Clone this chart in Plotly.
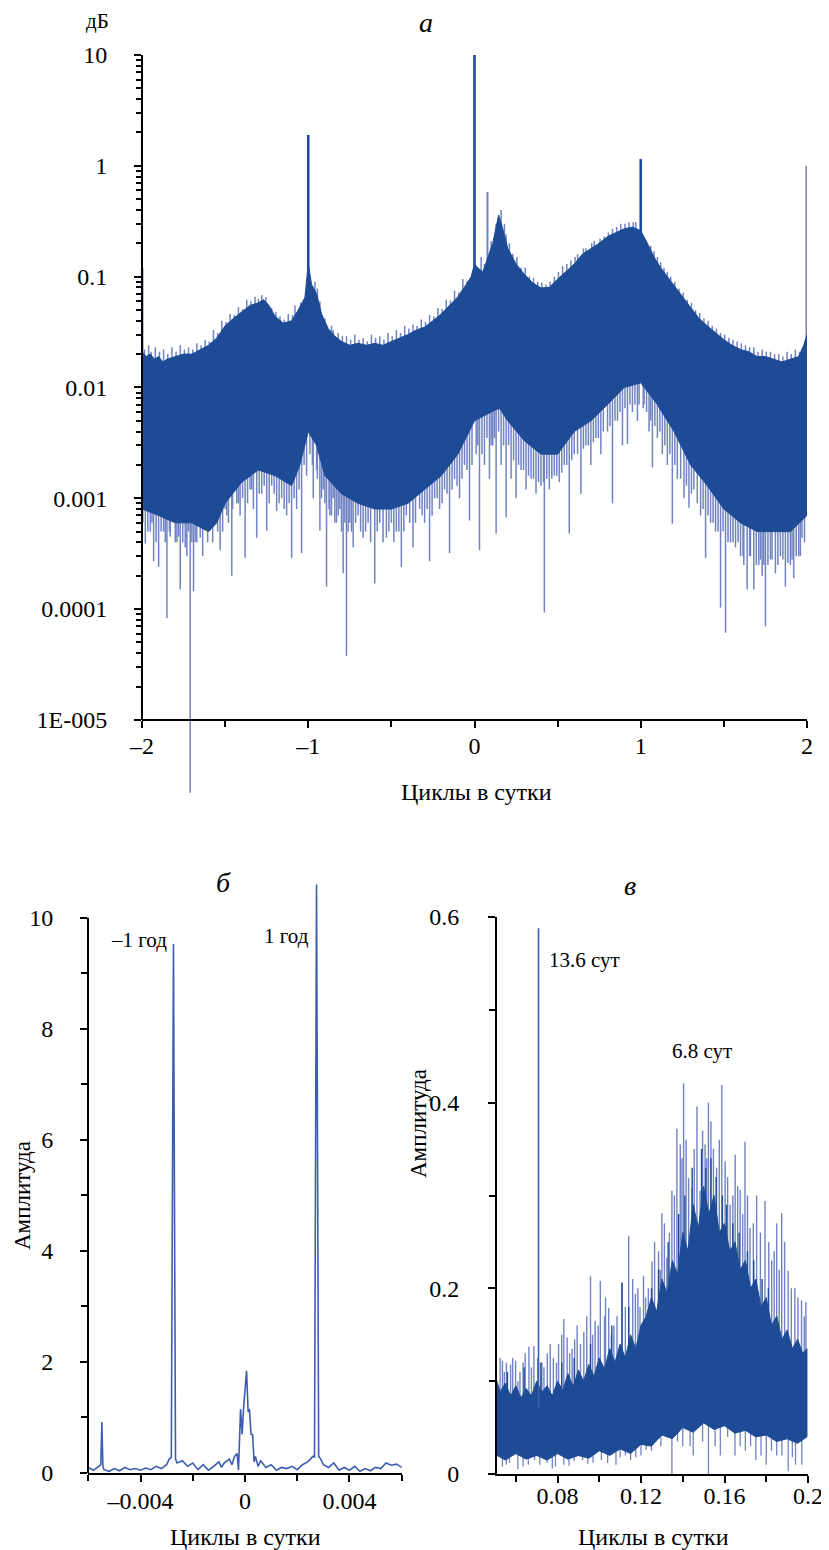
import math
import plotly.graph_objects as go

W, H = 829, 1550
OFF = 8  # the page body margin shifts the figure by 8 px
def px(x): return (x - OFF) / W
def py(y): return 1 - (y - OFF) / H

DARK = "#1d4b95"
LIGHT = "#7083c3"
MID = "#3d5db0"
FONT = "Liberation Serif"

# ---------------- Panel a (log spectrum, cycles per day) ----------------
A_UP_F = [-2.00, -1.975, -1.95, -1.925, -1.90, -1.875, -1.85, -1.80, -1.75, -1.70, -1.65, -1.60, -1.55,
          -1.50, -1.45, -1.40, -1.35, -1.30, -1.27, -1.24, -1.20, -1.15, -1.10, -1.06, -1.02, -1.00,
          -0.98, -0.95, -0.92, -0.88, -0.84, -0.80, -0.75, -0.70, -0.65, -0.60, -0.55, -0.50, -0.45,
          -0.40, -0.35, -0.30, -0.25, -0.20, -0.15, -0.10, -0.05, -0.02, 0.00, 0.02, 0.05, 0.08, 0.11,
          0.145, 0.17, 0.20, 0.25, 0.30, 0.35, 0.40, 0.45, 0.50, 0.55, 0.60, 0.65, 0.70, 0.75, 0.80,
          0.85, 0.90, 0.95, 1.00, 1.04, 1.08, 1.12, 1.16, 1.20, 1.25, 1.30, 1.35, 1.40, 1.45, 1.50,
          1.55, 1.60, 1.65, 1.70, 1.75, 1.80, 1.85, 1.90, 1.95, 1.98, 2.00]
A_UP_V = [0.021, 0.019, 0.020, 0.018, 0.019, 0.017, 0.018, 0.019, 0.020, 0.020, 0.022, 0.024, 0.028,
          0.036, 0.042, 0.048, 0.055, 0.058, 0.062, 0.056, 0.044, 0.038, 0.040, 0.050, 0.065, 0.13,
          0.085, 0.070, 0.046, 0.034, 0.029, 0.026, 0.024, 0.025, 0.024, 0.025, 0.024, 0.026, 0.028,
          0.030, 0.033, 0.035, 0.040, 0.046, 0.055, 0.066, 0.085, 0.10, 0.13, 0.12, 0.11, 0.15, 0.20,
          0.36, 0.27, 0.18, 0.13, 0.105, 0.088, 0.079, 0.080, 0.095, 0.11, 0.13, 0.16, 0.18, 0.20, 0.23,
          0.25, 0.27, 0.28, 0.26, 0.20, 0.15, 0.12, 0.10, 0.082, 0.065, 0.052, 0.042, 0.036, 0.031, 0.027,
          0.024, 0.022, 0.021, 0.019, 0.019, 0.018, 0.017, 0.018, 0.019, 0.024, 0.030]

A_LO_F = [-2.00, -1.90, -1.80, -1.70, -1.60, -1.55, -1.50, -1.40, -1.30, -1.20, -1.10, -1.05, -1.00,
          -0.95, -0.90, -0.80, -0.70, -0.60, -0.50, -0.40, -0.30, -0.20, -0.10, 0.00, 0.10, 0.15, 0.20,
          0.30, 0.40, 0.50, 0.60, 0.70, 0.80, 0.90, 1.00, 1.10, 1.20, 1.30, 1.40, 1.50, 1.60, 1.70,
          1.80, 1.90, 2.00]
A_LO_V = [0.0008, 0.0007, 0.0006, 0.0006, 0.0005, 0.0006, 0.0009, 0.0014, 0.0018, 0.0016, 0.0013, 0.002,
          0.004, 0.003, 0.0016, 0.0011, 0.0009, 0.0008, 0.0008, 0.0009, 0.0012, 0.0016, 0.0025, 0.005,
          0.006, 0.0065, 0.005, 0.0033, 0.0025, 0.0025, 0.004, 0.005, 0.007, 0.010, 0.011, 0.007, 0.004,
          0.002, 0.0013, 0.0008, 0.0006, 0.0005, 0.0005, 0.0005, 0.0007]

# light fringe spikes above the upper edge
A_FR = [(-1.96, 0.024), (-1.92, 0.023), (-1.87, 0.022), (-1.82, 0.023), (-1.77, 0.024), (-1.72, 0.023),
        (-1.67, 0.025), (-1.62, 0.027), (-1.57, 0.033), (-1.52, 0.040), (-1.47, 0.046), (-1.42, 0.053),
        (-1.37, 0.062), (-1.32, 0.066), (-1.28, 0.068), (-1.22, 0.052), (-1.17, 0.044), (-1.12, 0.046),
        (-1.08, 0.055), (-0.96, 0.09), (-0.93, 0.06), (-0.86, 0.036), (-0.82, 0.031), (-0.77, 0.029),
        (-0.72, 0.030), (-0.67, 0.028), (-0.62, 0.030), (-0.57, 0.029), (-0.52, 0.031), (-0.47, 0.033),
        (-0.42, 0.036), (-0.37, 0.037), (-0.32, 0.041), (-0.27, 0.045), (-0.22, 0.052), (-0.17, 0.062),
        (-0.12, 0.075), (-0.07, 0.095), (0.04, 0.15), (0.13, 0.30), (0.16, 0.40), (0.19, 0.24),
        (0.23, 0.16), (0.28, 0.12), (0.33, 0.10), (0.38, 0.09), (0.43, 0.085), (0.48, 0.10),
        (0.53, 0.125), (0.58, 0.14), (0.62, 0.16), (0.67, 0.18), (0.72, 0.21), (0.78, 0.23),
        (0.83, 0.27), (0.88, 0.30), (0.93, 0.31), (0.97, 0.31), (1.06, 0.19), (1.10, 0.15),
        (1.14, 0.12), (1.18, 0.10), (1.23, 0.078), (1.28, 0.062), (1.33, 0.050), (1.38, 0.042),
        (1.43, 0.036), (1.48, 0.031), (1.53, 0.028), (1.58, 0.026), (1.63, 0.024), (1.68, 0.023),
        (1.73, 0.022), (1.78, 0.021), (1.83, 0.020), (1.88, 0.021), (1.93, 0.022),
        (-1.985, 0.022), (-1.945, 0.021), (-1.895, 0.021), (-1.845, 0.020), (-1.795, 0.021),
        (-1.745, 0.022), (-1.695, 0.022), (-1.645, 0.024), (-1.595, 0.026), (-1.545, 0.031),
        (-1.495, 0.039), (-1.445, 0.045), (-1.395, 0.051), (-1.345, 0.060), (-1.30, 0.063),
        (-1.255, 0.065), (-1.195, 0.048), (-1.145, 0.041), (-1.095, 0.045), (-1.045, 0.058),
        (-0.945, 0.078), (-0.90, 0.042), (-0.85, 0.033), (-0.795, 0.029), (-0.745, 0.027),
        (-0.695, 0.027), (-0.645, 0.026), (-0.595, 0.028), (-0.545, 0.027), (-0.495, 0.029),
        (-0.445, 0.031), (-0.395, 0.034), (-0.345, 0.036), (-0.295, 0.039), (-0.245, 0.044),
        (-0.195, 0.051), (-0.145, 0.061), (-0.095, 0.072), (-0.045, 0.092), (0.06, 0.13),
        (0.10, 0.21), (0.18, 0.30), (0.21, 0.20), (0.255, 0.15), (0.305, 0.12), (0.355, 0.097),
        (0.405, 0.088), (0.455, 0.09), (0.505, 0.11), (0.555, 0.13), (0.605, 0.15), (0.655, 0.18),
        (0.705, 0.20), (0.755, 0.22), (0.805, 0.25), (0.855, 0.28), (0.905, 0.30), (0.955, 0.31),
        (1.08, 0.17), (1.12, 0.135), (1.16, 0.11), (1.205, 0.09), (1.255, 0.072), (1.305, 0.058),
        (1.355, 0.047), (1.405, 0.040), (1.455, 0.034), (1.505, 0.030), (1.555, 0.027),
        (1.605, 0.025), (1.655, 0.023), (1.705, 0.021), (1.755, 0.021), (1.805, 0.020),
        (1.855, 0.019), (1.905, 0.020), (1.955, 0.021)]
A_FR_F = [p[0] for p in A_FR]
A_FR_V = [p[1] for p in A_FR]

# light spikes hanging below the band (long ones)
A_DN = [(-1.98, 0.00039), (-1.95, 0.0005), (-1.93, 0.00027), (-1.90, 0.00024), (-1.87, 0.0005),
        (-1.85, 0.000083), (-1.83, 0.00045), (-1.81, 0.00063), (-1.79, 0.0004), (-1.77, 0.00015),
        (-1.74, 0.00036), (-1.72, 0.0005), (-1.71, 0.0000022), (-1.69, 0.000145), (-1.67, 0.0004),
        (-1.65, 0.00044), (-1.62, 0.0006), (-1.59, 0.00051), (-1.56, 0.0007), (-1.53, 0.00034),
        (-1.50, 0.0008), (-1.48, 0.0006), (-1.46, 0.0002), (-1.43, 0.0009), (-1.41, 0.0007),
        (-1.38, 0.00029), (-1.35, 0.0012), (-1.33, 0.0008), (-1.31, 0.00044), (-1.28, 0.0011),
        (-1.25, 0.00051), (-1.22, 0.0013), (-1.19, 0.00077), (-1.16, 0.001), (-1.13, 0.0007),
        (-1.10, 0.00029), (-1.07, 0.0008), (-1.04, 0.00032), (-1.01, 0.0016), (-0.99, 0.0025),
        (-0.97, 0.001), (-0.95, 0.0018), (-0.93, 0.00051), (-0.91, 0.0012), (-0.89, 0.00016),
        (-0.87, 0.0007), (-0.85, 0.001), (-0.83, 0.0006), (-0.81, 0.0008), (-0.79, 0.00021),
        (-0.77, 0.000038), (-0.75, 0.0006), (-0.73, 0.00036), (-0.70, 0.0007), (-0.67, 0.00044),
        (-0.64, 0.0006), (-0.60, 0.00017), (-0.57, 0.0006), (-0.53, 0.00044), (-0.50, 0.0006),
        (-0.47, 0.0005), (-0.44, 0.00024), (-0.41, 0.0007), (-0.37, 0.00036), (-0.33, 0.0008),
        (-0.30, 0.0006), (-0.27, 0.00027), (-0.24, 0.001), (-0.21, 0.0008), (-0.18, 0.0012),
        (-0.15, 0.00032), (-0.12, 0.0015), (-0.09, 0.001), (-0.06, 0.002), (-0.03, 0.00063),
        (0.01, 0.0025), (0.03, 0.00034), (0.06, 0.002), (0.09, 0.0015), (0.11, 0.003), (0.13, 0.00048),
        (0.16, 0.002), (0.19, 0.00067), (0.22, 0.0015), (0.25, 0.001), (0.28, 0.0018), (0.31, 0.0012),
        (0.34, 0.0015), (0.37, 0.0011), (0.40, 0.0013), (0.42, 0.000093), (0.45, 0.0012), (0.48, 0.0016),
        (0.51, 0.0014), (0.54, 0.002), (0.57, 0.00048), (0.60, 0.0025), (0.64, 0.0011), (0.67, 0.003),
        (0.70, 0.002), (0.73, 0.0035), (0.76, 0.0025), (0.80, 0.004), (0.83, 0.0009), (0.86, 0.005),
        (0.89, 0.003), (0.92, 0.0031), (0.95, 0.006), (0.98, 0.005), (1.02, 0.007), (1.05, 0.004),
        (1.07, 0.0019), (1.10, 0.0035), (1.13, 0.0025), (1.16, 0.002), (1.19, 0.00059), (1.22, 0.0015),
        (1.26, 0.001), (1.29, 0.00082), (1.32, 0.0012), (1.36, 0.0007), (1.39, 0.00029), (1.42, 0.0006),
        (1.45, 0.0005), (1.48, 0.000103), (1.51, 0.000061), (1.54, 0.0004), (1.57, 0.00036),
        (1.60, 0.0003), (1.62, 0.00025), (1.64, 0.00015), (1.66, 0.0003), (1.68, 0.00015),
        (1.71, 0.00025), (1.73, 0.0002), (1.75, 0.00007), (1.78, 0.00028), (1.81, 0.00021),
        (1.84, 0.0003), (1.87, 0.00016), (1.90, 0.00025), (1.92, 0.00019), (1.95, 0.0003), (1.97, 0.00044)]
# shorter light spikes that thicken the lower fringe
A_DN2 = [(-1.995, 0.0006), (-1.965, 0.0005), (-1.94, 0.0006), (-1.915, 0.0004), (-1.885, 0.0005),
         (-1.86, 0.0004), (-1.835, 0.0005), (-1.80, 0.0004), (-1.78, 0.00045), (-1.755, 0.0004),
         (-1.73, 0.0003), (-1.70, 0.0004), (-1.68, 0.0004), (-1.635, 0.0003), (-1.605, 0.0004),
         (-1.575, 0.0004), (-1.545, 0.0005), (-1.515, 0.0005), (-1.49, 0.0007), (-1.455, 0.0008),
         (-1.42, 0.0009), (-1.395, 0.001), (-1.365, 0.0009), (-1.34, 0.0012), (-1.295, 0.0011),
         (-1.265, 0.0013), (-1.235, 0.0009), (-1.205, 0.0011), (-1.175, 0.0009), (-1.145, 0.0008),
         (-1.115, 0.0009), (-1.085, 0.001), (-1.055, 0.0012), (-1.025, 0.002), (-0.975, 0.002),
         (-0.945, 0.0015), (-0.92, 0.001), (-0.90, 0.0009), (-0.875, 0.0008), (-0.86, 0.0007),
         (-0.84, 0.0006), (-0.82, 0.0007), (-0.80, 0.0005), (-0.78, 0.0006), (-0.76, 0.0005),
         (-0.74, 0.0005), (-0.715, 0.0006), (-0.685, 0.0005), (-0.655, 0.0005), (-0.625, 0.0004),
         (-0.585, 0.0005), (-0.55, 0.0004), (-0.515, 0.0005), (-0.485, 0.0004), (-0.455, 0.0005),
         (-0.425, 0.0005), (-0.39, 0.0006), (-0.355, 0.0006), (-0.315, 0.0007), (-0.285, 0.0008),
         (-0.255, 0.0007), (-0.225, 0.001), (-0.195, 0.0009), (-0.165, 0.0011), (-0.135, 0.0012),
         (-0.105, 0.0013), (-0.075, 0.0015), (-0.045, 0.0018), (-0.015, 0.002), (0.02, 0.003),
         (0.045, 0.0025), (0.075, 0.0035), (0.10, 0.003), (0.12, 0.0035), (0.145, 0.004),
         (0.175, 0.003), (0.205, 0.003), (0.235, 0.0022), (0.265, 0.002), (0.295, 0.0018),
         (0.325, 0.0016), (0.355, 0.0015), (0.385, 0.0014), (0.415, 0.0014), (0.435, 0.0015),
         (0.465, 0.0015), (0.495, 0.0016), (0.525, 0.0017), (0.555, 0.002), (0.585, 0.0022),
         (0.62, 0.0025), (0.655, 0.0028), (0.685, 0.003), (0.715, 0.0032), (0.745, 0.0035),
         (0.775, 0.004), (0.815, 0.0045), (0.845, 0.005), (0.875, 0.006), (0.905, 0.0065),
         (0.935, 0.007), (0.965, 0.007), (0.99, 0.007), (1.015, 0.0065), (1.035, 0.006),
         (1.06, 0.005), (1.085, 0.0045), (1.115, 0.004), (1.145, 0.003), (1.175, 0.0025),
         (1.205, 0.002), (1.24, 0.0015), (1.275, 0.0013), (1.305, 0.0011), (1.34, 0.0009),
         (1.375, 0.0008), (1.405, 0.0007), (1.435, 0.0006), (1.465, 0.0005), (1.495, 0.0005),
         (1.525, 0.0004), (1.555, 0.0004), (1.585, 0.0004), (1.615, 0.0003), (1.655, 0.0003),
         (1.695, 0.00025), (1.72, 0.00028), (1.74, 0.00025), (1.765, 0.00025), (1.79, 0.00028),
         (1.825, 0.00025), (1.855, 0.00028), (1.885, 0.00026), (1.91, 0.00028), (1.935, 0.0003),
         (1.96, 0.0003), (1.985, 0.0004)]
A_DN_F = [p[0] for p in A_DN + A_DN2]
A_DN_V = [p[1] for p in A_DN + A_DN2]

# main spectral lines
A_PK_F = [-1.00, 0.00, 1.00]
A_PK_V = [1.9, 10.5, 1.15]
A_PKL_F = [-1.997, 0.078, 1.997]
A_PKL_V = [0.12, 0.58, 1.0]

A_YTICKS = [1e-5, 1e-4, 1e-3, 1e-2, 1e-1, 1, 10]
A_YTEXT = ["1E-005", "0.0001", "0.001", "0.01", "0.1", "1", "10"]
A_XTICKS = [-2, -1, 0, 1, 2]
A_XTEXT = ["–2", "–1", "0", "1", "2"]

# ---------------- Panel б (low frequencies) ----------------
B_F = [-0.0060, -0.0058, -0.0056, -0.00552, -0.00548, -0.00544, -0.0054, -0.0052, -0.0050, -0.0048,
       -0.0046, -0.0044, -0.0042, -0.0040, -0.0038, -0.0036, -0.0034, -0.0032, -0.0030, -0.0029,
       -0.00282, -0.002738, -0.00266, -0.0026, -0.0024, -0.0022, -0.0020, -0.0018, -0.0016, -0.0014,
       -0.0012, -0.0010, -0.0009, -0.0008, -0.0006, -0.0005, -0.0004, -0.0003, -0.00025, -0.00017,
       -0.00011, -0.00005, 0.00006, 0.00012, 0.00017, 0.00023, 0.00029, 0.00035, 0.0004, 0.0005,
       0.0006, 0.0007, 0.0008, 0.0010, 0.0012, 0.0014, 0.0016, 0.0018, 0.0020, 0.0022, 0.0024, 0.0026,
       0.00266, 0.002738, 0.00282, 0.0029, 0.0030, 0.0032, 0.0034, 0.0036, 0.0038, 0.0040, 0.0042,
       0.0044, 0.0046, 0.0048, 0.0050, 0.0052, 0.0054, 0.0056, 0.0058, 0.0060]
B_V = [0.10, 0.05, 0.12, 0.15, 0.92, 0.12, 0.06, 0.03, 0.08, 0.04,
       0.10, 0.06, 0.08, 0.05, 0.09, 0.06, 0.12, 0.08, 0.15, 0.25,
       0.28, 9.53, 0.25, 0.18, 0.22, 0.12, 0.18, 0.06, 0.15, 0.05,
       0.12, 0.20, 0.10, 0.18, 0.25, 0.15, 0.30, 0.35, 0.05, 1.15,
       0.70, 1.20, 1.84, 1.10, 1.15, 0.70, 0.69, 0.20, 0.30, 0.12,
       0.22, 0.15, 0.10, 0.15, 0.05, 0.10, 0.08, 0.12, 0.06, 0.15, 0.20, 0.30,
       0.28, 10.6, 0.30, 0.25, 0.15, 0.10, 0.18, 0.05, 0.10, 0.05, 0.12,
       0.03, 0.08, 0.04, 0.10, 0.08, 0.18, 0.14, 0.16, 0.10]

# ---------------- Panel в (0.05–0.2 cycles per day) ----------------
C_UP = [(0.051, 0.10), (0.0525, 0.088), (0.055, 0.098), (0.0575, 0.084), (0.06, 0.095), (0.0625, 0.082),
        (0.065, 0.092), (0.0675, 0.084), (0.07, 0.10), (0.0725, 0.088), (0.075, 0.095), (0.0775, 0.084),
        (0.08, 0.10), (0.0825, 0.09), (0.085, 0.108), (0.0875, 0.094), (0.09, 0.112), (0.0925, 0.10),
        (0.095, 0.118), (0.0975, 0.105), (0.10, 0.125), (0.1025, 0.113), (0.105, 0.135), (0.1075, 0.12),
        (0.11, 0.14), (0.1125, 0.125), (0.115, 0.15), (0.1175, 0.135), (0.12, 0.16), (0.1225, 0.17),
        (0.125, 0.19), (0.1275, 0.175), (0.13, 0.21), (0.1325, 0.195), (0.135, 0.23), (0.1375, 0.215),
        (0.14, 0.26), (0.1425, 0.24), (0.145, 0.29), (0.1475, 0.265), (0.15, 0.31), (0.1525, 0.28),
        (0.155, 0.30), (0.1575, 0.26), (0.16, 0.27), (0.1625, 0.24), (0.165, 0.25), (0.1675, 0.22),
        (0.17, 0.23), (0.1725, 0.20), (0.175, 0.21), (0.1775, 0.18), (0.18, 0.19), (0.1825, 0.16),
        (0.185, 0.17), (0.1875, 0.145), (0.19, 0.155), (0.1925, 0.135), (0.195, 0.145), (0.1975, 0.13),
        (0.1995, 0.135)]
C_LO = [(0.051, 0.02), (0.055, 0.015), (0.06, 0.022), (0.065, 0.016), (0.07, 0.02), (0.075, 0.015),
        (0.08, 0.022), (0.085, 0.016), (0.09, 0.02), (0.095, 0.017), (0.10, 0.025), (0.105, 0.02),
        (0.11, 0.027), (0.115, 0.022), (0.12, 0.032), (0.125, 0.03), (0.13, 0.042), (0.135, 0.038),
        (0.14, 0.05), (0.145, 0.045), (0.15, 0.055), (0.155, 0.048), (0.16, 0.052), (0.165, 0.044),
        (0.17, 0.047), (0.175, 0.04), (0.18, 0.042), (0.185, 0.035), (0.19, 0.038), (0.195, 0.033),
        (0.1995, 0.04)]
C_UP_F = [p[0] for p in C_UP]
C_UP_V = [p[1] for p in C_UP]
C_LO_F = [p[0] for p in C_LO]
C_LO_V = [p[1] for p in C_LO]

C_SP = [(0.0525, 0.125), (0.0536, 0.122), (0.0555, 0.12), (0.0575, 0.118), (0.0599, 0.122), (0.062, 0.11),
        (0.0645, 0.13), (0.0663, 0.137), (0.0687, 0.138), (0.0725, 0.12), (0.0751, 0.13), (0.078, 0.125),
        (0.0805, 0.14), (0.0830, 0.167), (0.0846, 0.147), (0.087, 0.135), (0.0894, 0.16), (0.0926, 0.153),
        (0.0958, 0.213), (0.098, 0.165), (0.1005, 0.208), (0.1025, 0.17), (0.1045, 0.179), (0.107, 0.16),
        (0.1109, 0.206), (0.1141, 0.256), (0.1173, 0.194), (0.1195, 0.18), (0.1212, 0.213), (0.1235, 0.2),
        (0.1253, 0.229), (0.1284, 0.24), (0.1300, 0.281), (0.1324, 0.233), (0.1348, 0.305), (0.1372, 0.372),
        (0.1388, 0.355), (0.1404, 0.421), (0.1428, 0.319), (0.1444, 0.308), (0.1468, 0.396), (0.1483, 0.305),
        (0.1507, 0.355), (0.1523, 0.40), (0.1547, 0.35), (0.1587, 0.419), (0.1603, 0.337), (0.1627, 0.29),
        (0.1651, 0.344), (0.1675, 0.306), (0.1698, 0.358), (0.1722, 0.265), (0.1754, 0.30), (0.1794, 0.294),
        (0.1826, 0.23), (0.1850, 0.27), (0.1874, 0.281), (0.1905, 0.219), (0.1937, 0.20), (0.1969, 0.187),
        (0.1990, 0.185),
        (0.0545, 0.11), (0.0585, 0.125), (0.061, 0.10), (0.0635, 0.12), (0.0675, 0.115), (0.0705, 0.125),
        (0.0735, 0.115), (0.0765, 0.14), (0.0795, 0.12), (0.082, 0.15), (0.0858, 0.13), (0.0882, 0.145),
        (0.091, 0.14), (0.094, 0.17), (0.0968, 0.15), (0.0995, 0.16), (0.103, 0.19), (0.1058, 0.15),
        (0.1085, 0.17), (0.1125, 0.18), (0.116, 0.21), (0.1185, 0.20), (0.1222, 0.19), (0.1265, 0.25),
        (0.1292, 0.22), (0.1312, 0.27), (0.1336, 0.26), (0.136, 0.30), (0.1396, 0.34), (0.1416, 0.36),
        (0.1455, 0.35), (0.1495, 0.37), (0.1515, 0.34), (0.1535, 0.38), (0.1562, 0.33), (0.1575, 0.36),
        (0.1615, 0.32), (0.1640, 0.30), (0.1663, 0.31), (0.1687, 0.28), (0.171, 0.30), (0.1738, 0.27),
        (0.1772, 0.26), (0.1812, 0.25), (0.1838, 0.24), (0.1862, 0.22), (0.1888, 0.25), (0.192, 0.20),
        (0.1952, 0.19), (0.1982, 0.17)]
C_SP_F = [p[0] for p in C_SP]
C_SP_V = [p[1] for p in C_SP]
C_DK = [(0.056, 0.11), (0.064, 0.115), (0.072, 0.12), (0.082, 0.12), (0.088, 0.125), (0.0958, 0.14),
        (0.106, 0.16), (0.1109, 0.206), (0.1141, 0.18), (0.125, 0.20), (0.1284, 0.22), (0.133, 0.25),
        (0.138, 0.28), (0.141, 0.30), (0.1445, 0.33), (0.149, 0.35), (0.151, 0.33), (0.1535, 0.34),
        (0.156, 0.32), (0.159, 0.30), (0.161, 0.29), (0.164, 0.27), (0.167, 0.26), (0.171, 0.24),
        (0.174, 0.23), (0.178, 0.21), (0.181, 0.20)]
C_DK_F = [p[0] for p in C_DK]
C_DK_V = [p[1] for p in C_DK]
C_DN = [(0.0536, 0.008), (0.057, 0.012), (0.061, 0.005), (0.066, 0.01), (0.069, 0.015), (0.075, 0.012),
        (0.079, 0.008), (0.083, 0.01), (0.088, 0.014), (0.092, 0.015), (0.097, 0.012), (0.104, 0.012),
        (0.11, 0.018), (0.115, 0.015), (0.12, 0.02), (0.125, 0.025), (0.1348, 0.0), (0.14, 0.03),
        (0.145, 0.02), (0.1523, 0.0), (0.158, 0.02), (0.165, 0.02), (0.17, 0.025), (0.175, 0.015),
        (0.18, 0.01), (0.185, 0.02), (0.1905, 0.003), (0.194, 0.01), (0.197, 0.01),
        (0.0555, 0.01), (0.0635, 0.008), (0.0715, 0.01), (0.0775, 0.006), (0.0855, 0.009),
        (0.0945, 0.011), (0.101, 0.015), (0.108, 0.01), (0.1125, 0.02), (0.1175, 0.018),
        (0.1225, 0.026), (0.1295, 0.03), (0.1375, 0.035), (0.1435, 0.03), (0.1495, 0.035),
        (0.1555, 0.03), (0.1615, 0.04), (0.1675, 0.03), (0.1725, 0.03), (0.1775, 0.02),
        (0.1825, 0.025), (0.1875, 0.02), (0.1925, 0.018)]
C_DN_F = [p[0] for p in C_DN]
C_DN_V = [p[1] for p in C_DN]
C_PK_F = [0.0709]
C_PK_V = [0.588]


def spikes(fs, vs, base):
    xs, ys = [], []
    for f, v in zip(fs, vs):
        xs += [f, f, None]
        ys += [base, v, None]
    return xs, ys


fig = go.Figure()

def add_spikes(fs, vs, base, color, width, xa, ya):
    xs, ys = spikes(fs, vs, base)
    fig.add_trace(go.Scatter(x=xs, y=ys, mode="lines", line=dict(color=color, width=width),
                             xaxis=xa, yaxis=ya, hoverinfo="skip"))

def add_band(uf, uv, lf, lv, xa, ya):
    fig.add_trace(go.Scatter(x=uf + lf[::-1], y=uv + lv[::-1], mode="lines", fill="toself",
                             fillcolor=DARK, line=dict(color=DARK, width=1), xaxis=xa, yaxis=ya,
                             hoverinfo="skip"))

# Panel a
add_spikes(A_DN_F, A_DN_V, 0.015, LIGHT, 1.5, "x", "y")
add_spikes(A_FR_F, A_FR_V, 0.015, LIGHT, 1.5, "x", "y")
add_spikes(A_PKL_F, A_PKL_V, 0.015, LIGHT, 2.0, "x", "y")
add_band(A_UP_F, A_UP_V, A_LO_F, A_LO_V, "x", "y")
add_spikes(A_PK_F, A_PK_V, 0.015, DARK, 2.6, "x", "y")

# Panel б
fig.add_trace(go.Scatter(x=B_F, y=B_V, mode="lines", line=dict(color=MID, width=1.6),
                         xaxis="x2", yaxis="y2", hoverinfo="skip"))

# Panel в
add_spikes(C_DN_F, C_DN_V, 0.07, LIGHT, 1.3, "x3", "y3")
add_spikes(C_SP_F, C_SP_V, 0.07, LIGHT, 1.4, "x3", "y3")
add_band(C_UP_F, C_UP_V, C_LO_F, C_LO_V, "x3", "y3")
add_spikes(C_DK_F, C_DK_V, 0.07, DARK, 1.4, "x3", "y3")
add_spikes(C_PK_F, C_PK_V, 0.07, MID, 1.6, "x3", "y3")

TICKFONT = dict(family=FONT, size=24, color="black")
tick_common = dict(ticks="outside", ticklen=7, tickwidth=2, tickcolor="black", showgrid=False,
                   zeroline=False, tickfont=TICKFONT, automargin=False)

def minor(vals, ln=6, w=2):
    return dict(tickvals=vals, ticks="outside", ticklen=ln, tickwidth=w, tickcolor="black", showgrid=False)

a_minor_y = [k * 10 ** e for e in range(-5, 1) for k in range(2, 10)]

fig.update_layout(
    width=W, height=H, margin=dict(l=0, r=0, t=0, b=0, pad=0),
    plot_bgcolor="white", paper_bgcolor="white", showlegend=False,
    font=dict(family=FONT, size=22, color="black"),
    xaxis=dict(domain=[px(142), px(807)], range=[-2, 2], anchor="free", position=py(720),
               showline=True, linecolor="black", linewidth=2, tickvals=A_XTICKS, ticktext=A_XTEXT,
               minor=minor([-1.5, -0.5, 0.5, 1.5]), ticklabelstandoff=-3, **tick_common),
    yaxis=dict(domain=[py(795), py(55)], type="log", range=[math.log10(2.1e-6), 1], anchor="x",
               showline=False, tickvals=A_YTICKS, ticktext=A_YTEXT, minor=minor(a_minor_y, 5, 1.5),
               ticklabelstandoff=22, **tick_common),
    xaxis2=dict(domain=[px(88), px(402)], range=[-0.00601, 0.00601], anchor="y2", showline=True,
                linecolor="black", linewidth=2, tickvals=[-0.004, 0, 0.004], ticktext=["–0.004", "0", "0.004"],
                minor=minor([-0.006, -0.002, 0.002, 0.006]), ticklabelstandoff=-2, **tick_common),
    yaxis2=dict(domain=[py(1473), py(879)], range=[0, 10.7], anchor="x2", showline=False,
                tickvals=[0, 2, 4, 6, 8, 10], ticktext=["0", "2", "4", "6", "8", "10"],
                minor=minor([1, 3, 5, 7, 9]), ticklabelstandoff=22, **tick_common),
    xaxis3=dict(domain=[px(497), px(808)], range=[0.051, 0.2], anchor="y3", showline=True,
                linecolor="black", linewidth=2, tickvals=[0.08, 0.12, 0.16, 0.2],
                ticktext=["0.08", "0.12", "0.16", "0.2"], minor=minor([0.06, 0.1, 0.14, 0.18]),
                ticklabelstandoff=-8, **tick_common),
    yaxis3=dict(domain=[py(1474), py(917)], range=[0, 0.6], anchor="x3", showline=True,
                linecolor="black", linewidth=2, tickvals=[0, 0.2, 0.4, 0.6], ticktext=["0", "0.2", "0.4", "0.6"],
                minor=minor([0.1, 0.3, 0.5]), ticklabelstandoff=24, **tick_common),
)

fig.add_shape(type="line", xref="x domain", yref="y", x0=0, x1=0, y0=A_YTICKS[0], y1=A_YTICKS[-1],
              line=dict(color="black", width=2))
fig.add_shape(type="line", xref="x2 domain", yref="y2", x0=0, x1=0, y0=0, y1=10,
              line=dict(color="black", width=2))

def note(text, x, y, size=22, angle=0):
    fig.add_annotation(text=text, x=px(x), y=py(y), xref="paper", yref="paper", showarrow=False,
                       xanchor="center", yanchor="middle", textangle=angle,
                       font=dict(family=FONT, size=size, color="black"))

note("дБ", 97, 21, 21)
note("<i>а</i>", 426, 22, 28)
note("Циклы в сутки", 476, 792, 24)
note("<i>б</i>", 223, 882, 28)
note("<i>в</i>", 630, 886, 28)
note("–1 год", 139, 940, 21)
note("1 год", 286, 936, 21)
note("13.6 сут", 584, 960, 21)
note("6.8 сут", 702, 1051, 21)
note("Амплитуда", 22, 1196, 23, -90)
note("Амплитуда", 418, 1124, 23, -90)
note("Циклы в сутки", 245, 1537, 24)
note("Циклы в сутки", 653, 1537, 24)

fig.write_html("out.html")
